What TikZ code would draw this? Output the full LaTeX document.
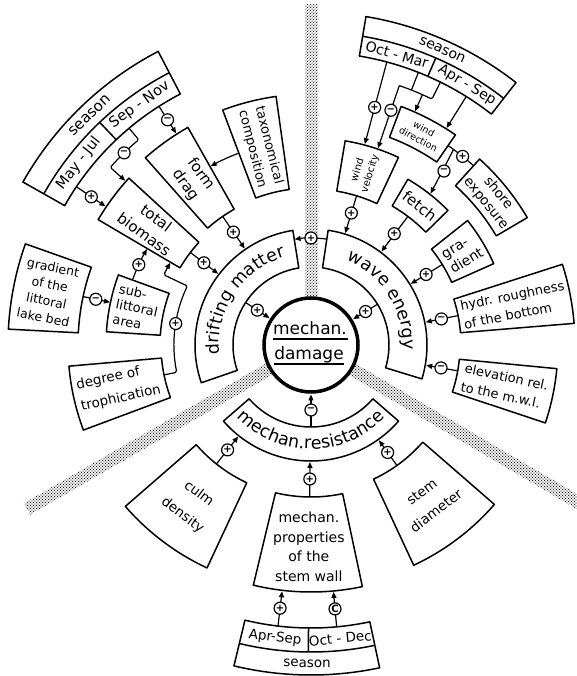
\documentclass[tikz,border=0pt]{standalone}
\usepackage{fontspec}
\setmainfont{DejaVu Sans}
\usetikzlibrary{arrows.meta,decorations.text,patterns}
\pgfdeclarepatternformonly{stipple}{\pgfpoint{-0.7pt}{-0.7pt}}{\pgfpoint{2.1pt}{2.1pt}}{\pgfpoint{2.8pt}{2.8pt}}{%
  \pgfpathcircle{\pgfpoint{0pt}{0pt}}{0.62pt}%
  \pgfpathcircle{\pgfpoint{1.4pt}{1.4pt}}{0.62pt}%
  \pgfusepath{fill}}
\newcommand\fz[2]{\fontsize{#1}{#2}\selectfont}
\newcommand\sectbox[5][]{%
  \draw[box,#1] (#4:#2) arc[start angle=#4,end angle=#5,radius=#2]
    -- (#5:#3) arc[start angle=#5,end angle=#4,radius=#3] -- cycle;}
\begin{document}
\begin{tikzpicture}[x=1pt,y=1pt,
  box/.style={draw,line width=1.5pt,fill=white,line join=round},
  sepl/.style={line width=1.5pt},
  con/.style={line width=1.2pt},
  arr/.style={con,-{Triangle[length=6pt,width=5pt]}},
  sgn/.style={circle,draw,line width=1.2pt,fill=white,inner sep=0pt,minimum size=12pt,font=\bfseries\fz{10}{10}},
  txt/.style={inner sep=0pt,align=center},
  band/.style={pattern=stipple,pattern color=black}
]
\useasboundingbox (-311,-331) rectangle (266,345);
% stippled bands
\fill[band] (-6,46) rectangle (7,340);
\begin{scope}[rotate=210]\fill[band] (46,-6.5) rectangle (328,6.5);\end{scope}
\begin{scope}[rotate=329.5]\fill[band] (46,-6.5) rectangle (340,6.5);\end{scope}
% centre
\node[circle,draw,line width=3.5pt,fill=white,minimum size=94pt,inner sep=0pt] (md) at (0,0) {};
\node[txt,anchor=base,font=\fz{17}{20}] (md1) at (-1,10) {mechan.};
\node[txt,anchor=base,font=\fz{17}{20}] (md2) at (-2,-15) {damage};
\draw[line width=1.5pt] (-38,6) -- (37,6);
\draw[line width=1.5pt] (-37,-19) -- (33,-19);
% main arcs
\sectbox{78}{116}{99}{199}
\sectbox{78}{116}{-17}{81.5}
\sectbox{82}{116}{221}{319}
% top-left boxes
\sectbox{283}{331}{117.5}{150.5}
\draw[sepl] (117.5:307) arc[start angle=117.5,end angle=150.5,radius=307];
\draw[sepl] (133.5:283) -- (133.5:307);
\sectbox{156}{250}{119.5}{131.5}
\sectbox{157}{251}{98}{110.6}
\sectbox{152}{247}{137.5}{149.5}
\sectbox{151}{205}{160}{176.3}
\sectbox{233}{303}{160.5}{177}
\sectbox{150}{243}{185}{200.5}
% top-right boxes
\sectbox{293}{333}{52}{80.5}
\draw[sepl] (52:313) arc[start angle=52,end angle=80.5,radius=313];
\draw[sepl] (66.5:293) -- (66.5:313);
\sectbox{156}{207}{65}{80.5}
\sectbox{222}{255}{55.5}{69.3}
\sectbox{161}{192}{44.5}{59.7}
\sectbox{215}{251}{30.5}{47.8}
\sectbox{154}{200}{24}{38.5}
\sectbox{150}{264}{4.7}{17.8}
\sectbox{149}{247}{-18.4}{-5.5}
% bottom boxes
\sectbox{152}{246}{221}{245}
\sectbox{152}{247}{256.5}{282}
\sectbox{148}{243}{295}{319}
\sectbox{283}{330}{256.5}{282}
\draw[sepl] (256.5:307) arc[start angle=256.5,end angle=282,radius=307];
\draw[sepl] (269.5:283) -- (269.5:307);

% ---------- connectors: top-left ----------
\draw[arr] (146:283) -- (146:248);
\node[sgn] (s1) at (146:265) {+};
\draw[arr] (122.5:283) -- (122.5:251);
\node[sgn] (s2) at (122.5:267) {−};
\draw[arr,rounded corners=1.5pt] (130:283) -- (130:268) arc[start angle=130,end angle=138.5,radius=268] -- (138.5:248);
\node[sgn] (s3) at (134.2:268) {−};
\draw[arr] (110.6:205) arc[start angle=110.6,end angle=119.3,radius=205];
\draw[arr] (124.5:156) -- (124.5:117);
\node[sgn] (s4) at (124.5:137) {+};
\draw[arr] (142.5:152) -- (142.5:117);
\node[sgn] (s5) at (142.5:135) {+};
\draw[arr] (160:190) arc[start angle=160,end angle=149.7,radius=190];
\node[sgn] (s6) at (155:190) {+};
\draw[arr] (168:233) -- (168:205.5);
\node[sgn] (s7) at (168:220) {−};
\draw[arr,rounded corners=1.5pt] (191.5:150) -- (191.5:137) arc[start angle=191.5,end angle=154.5,radius=137] -- (154.5:163) arc[start angle=154.5,end angle=149.7,radius=163];
\node[sgn] (s8) at (171:137) {+};
\draw[arr] (147:78) -- (147:49.5);
\node[sgn] (s9) at (147:64) {+};

% ---------- connectors: top-right ----------
\draw[arr] (75:293) -- (75:208);
\node[sgn] (t1) at (75:246) {+};
\draw[con,rounded corners=1.5pt] (63.8:293) -- (63.8:274) arc[start angle=63.8,end angle=71.2,radius=274];
\draw[con] (68.5:293) -- (68.5:274);
\draw[arr] (71.2:274) -- (71.2:208);
\node[sgn] (t2) at (71.2:248) {−};
\draw[arr] (66:274) -- (66:256);
\draw[arr] (58:293) -- (58:256);
\draw[con] (55.5:242) arc[start angle=55.5,end angle=47.8,radius=242];
\node[sgn] (t3) at (51.2:242) {+};
\draw[arr] (53.9:242) -- (51.7:193);
\node[sgn] (t4) at (52.6:219) {−};
\draw[arr] (53:161) -- (53:117);
\node[sgn] (t5) at (53.2:139) {+};
\draw[arr] (73:156) -- (73:117);
\node[sgn] (t6) at (73:138) {+};
\draw[arr] (81.5:107) arc[start angle=81.5,end angle=98.8,radius=107];
\node[sgn] (t7) at (90:107) {+};
\draw[arr] (31.5:154) -- (31.5:117);
\node[sgn] (t8) at (31.5:135) {+};
\draw[arr] (11.3:150) -- (11.3:117);
\node[sgn] (t9) at (11.3:133) {−};
\draw[arr] (-10:149) -- (-10:117);
\node[sgn] (t10) at (-10:132) {−};
\draw[arr] (31.5:78) -- (31.5:49.5);
\node[sgn] (t11) at (31.5:64) {+};

% ---------- connectors: bottom ----------
\draw[arr] (270:82) -- (270:49.5);
\node[sgn] (b1) at (270:65) {−};
\draw[arr] (231.5:152) -- (231.5:117);
\node[sgn] (b2) at (231.5:134) {+};
\draw[arr] (269.5:152) -- (269.5:117);
\node[sgn] (b3) at (269.5:134) {+};
\draw[arr] (305.5:148) -- (305.5:117);
\node[sgn] (b4) at (305.5:132) {+};
\draw[arr] (263.3:283) -- (263.3:248);
\node[sgn] (b5) at (263.3:265) {+};
\draw[arr] (275.2:283) -- (275.2:248);
\node[sgn] (b6) at (275.2:265) {C};

% ---------- arc labels ----------
\path[decorate,decoration={text along path,text align=center,text={|\fz{17.5}{18}|drifting matter}}]
  (192:92) arc[start angle=192,end angle=100,radius=92];
\path[decorate,decoration={text along path,text align=center,text={|\fz{17.5}{18}|wave energy}}]
  (74:92) arc[start angle=74,end angle=-10,radius=92];
\path[decorate,decoration={text along path,text align=center,text={|\fz{17.5}{18}|mechan.resistance}}]
  (219:104) arc[start angle=219,end angle=321,radius=104];

% ---------- box labels: top-left ----------
\node[txt,font=\fz{15}{17},rotate=44] (sl0) at (134:319) {season};
\node[txt,font=\fz{14.5}{17},rotate=52] (sl1) at (142:295) {May - Jul};
\node[txt,font=\fz{14.5}{17},rotate=35.5] (sl2) at (125.5:295) {Sep - Nov};
\node[txt,font=\fz{15}{19},rotate=-54.5] (fd) at (125.5:203) {form\\drag};
\node[txt,font=\fz{13}{17},rotate=-75.7] (tax) at (104.3:204) {taxonomical\\composition};
\node[txt,font=\fz{15}{20},rotate=-36.5] (tb) at (143.5:200) {total\\biomass};
\node[txt,align=left,font=\fz{13}{15.5},rotate=-12] (sla) at (168:178) {sub-\\littoral\\area};
\node[txt,font=\fz{12.5}{17},rotate=-11.3] (glb) at (168.7:268) {gradient\\of the\\littoral\\lake bed};
\node[txt,align=left,font=\fz{13.5}{22},rotate=12.5] (dt) at (192.5:197) {degree of\\trophication};

% ---------- box labels: top-right ----------
\node[txt,font=\fz{14}{17},rotate=-24.5] (sr0) at (66:323) {season};
\node[txt,font=\fz{14}{17},rotate=-16.5] (sr1) at (73.5:303) {Oct - Mar};
\node[txt,font=\fz{14}{17},rotate=-31] (sr2) at (59:303) {Apr - Sep};
\node[txt,font=\fz{10}{13},rotate=73] (wv) at (73:181) {wind\\velocity};
\node[txt,font=\fz{9.5}{12},rotate=-27.6] (wd) at (62.4:238) {wind\\direction};
\node[txt,font=\fz{15}{17},rotate=-38] (fe) at (52:176.5) {fetch};
\node[txt,font=\fz{13.5}{16},rotate=-51] (se) at (39:233) {shore\\exposure};
\node[txt,align=left,font=\fz{14}{17},rotate=31] (gr) at (31:177) {gra-\\dient};
\node[txt,align=left,font=\fz{13}{19},rotate=11.2] (hr) at (11.2:207) {hydr. roughness\\of the bottom};
\node[txt,align=left,font=\fz{13}{19},rotate=-12] (el) at (-12:198) {elevation rel.\\to the m.w.l.};

% ---------- box labels: bottom ----------
\node[txt,font=\fz{13.5}{27},rotate=-37] (cd) at (233:200) {culm\\density};
\node[txt,font=\fz{14}{19.5}] (mp) at (269.4:202) {mechan.\\properties\\of the\\stem wall};
\node[txt,font=\fz{13.5}{24},rotate=37] (sd) at (307:196) {stem\\diameter};
\node[txt,font=\fz{13.5}{16},rotate=-7] (sb1) at (263:295) {Apr-Sep};
\node[txt,font=\fz{13.5}{16},rotate=5.7] (sb2) at (275.7:295) {Oct - Dec};
\node[txt,font=\fz{13.5}{16},rotate=-0.7] (sb0) at (269.3:318.5) {season};
\end{tikzpicture}
\end{document}
